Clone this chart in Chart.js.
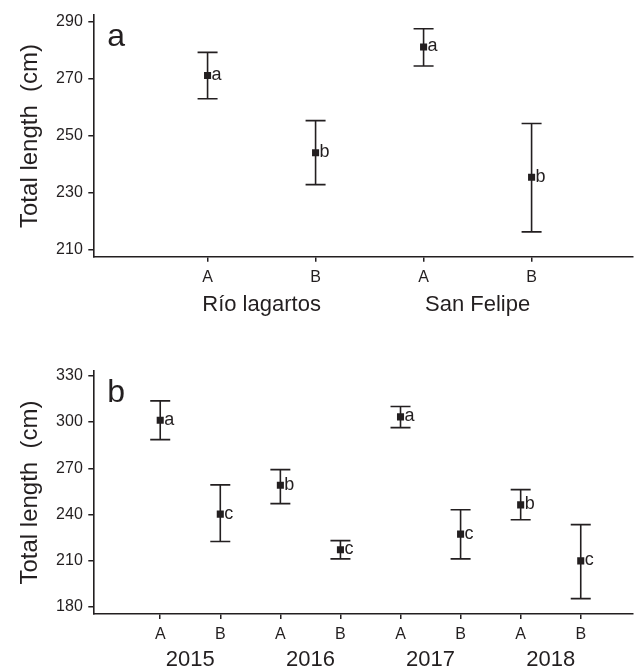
<!DOCTYPE html>
<html>
<head>
<meta charset="utf-8">
<script src="https://cdn.jsdelivr.net/npm/chart.js@4.4.1/dist/chart.umd.min.js"></script>
<style>
  body { margin: 0; background: #fff; }
  .panel { position: absolute; left: 0; width: 638px; }
  #boxA { top: 0; height: 330px; }
  #boxB { top: 335px; height: 337px; }
</style>
</head>
<body>
<div class="panel" id="boxA"><canvas id="chartA"></canvas></div>
<div class="panel" id="boxB"><canvas id="chartB"></canvas></div>
<script>
// panel a: sites
const catA = ['A', 'B', 'A', 'B'];
const groupA = ['Río lagartos', 'San Felipe'];
const meanA = [271.2, 244.0, 281.2, 235.4];
const lowA = [263.0, 232.8, 274.5, 216.2];
const highA = [279.3, 255.3, 287.6, 254.3];
const letterA = ['a', 'b', 'a', 'b'];
const ticksA = [210, 230, 250, 270, 290];

// panel b: years
const catB = ['A', 'B', 'A', 'B', 'A', 'B', 'A', 'B'];
const groupB = ['2015', '2016', '2017', '2018'];
const meanB = [301.2, 240.2, 259.0, 217.0, 303.4, 227.2, 246.2, 209.8];
const lowB = [288.6, 222.4, 247.0, 211.1, 296.4, 211.1, 236.5, 185.3];
const highB = [313.8, 259.2, 269.1, 223.0, 310.1, 243.0, 256.1, 233.4];
const letterB = ['a', 'c', 'b', 'c', 'a', 'c', 'b', 'c'];
const ticksB = [180, 210, 240, 270, 300, 330];

const FONT = "'Liberation Sans', Arial, sans-serif";
const INK = '#231f20';

const errBars = {
  id: 'errBars',
  beforeDatasetsDraw(chart, args, opts) {
    const { ctx, scales: { x, y } } = chart;
    ctx.save();
    ctx.strokeStyle = INK;
    ctx.lineWidth = 1.6;
    opts.low.forEach((lo, i) => {
      const px = x.getPixelForValue(i + 1);
      const top = y.getPixelForValue(opts.high[i]);
      const bot = y.getPixelForValue(lo);
      ctx.beginPath();
      ctx.moveTo(px, top); ctx.lineTo(px, bot);
      ctx.moveTo(px - 10, top); ctx.lineTo(px + 10, top);
      ctx.moveTo(px - 10, bot); ctx.lineTo(px + 10, bot);
      ctx.stroke();
    });
    ctx.restore();
  },
  afterDatasetsDraw(chart, args, opts) {
    const { ctx, scales: { x, y }, chartArea } = chart;
    ctx.save();
    ctx.fillStyle = INK;
    ctx.textBaseline = 'alphabetic';
    ctx.textAlign = 'left';
    ctx.font = '18px ' + FONT;
    opts.letters.forEach((t, i) => {
      const px = x.getPixelForValue(i + 1);
      const py = y.getPixelForValue(opts.mean[i]);
      ctx.fillText(t, px + 4, py + 4.5);
    });
    ctx.font = '32px ' + FONT;
    ctx.fillText(opts.panel, chartArea.left + 14, chartArea.top + 30.5);
    ctx.restore();
  }
};

function makeChart(id, cfg) {
  return new Chart(document.getElementById(id), {
    type: 'scatter',
    data: {
      datasets: [{
        data: cfg.mean.map((m, i) => ({ x: i + 1, y: m })),
        pointStyle: 'rect',
        pointRadius: 5,
        pointHoverRadius: 5,
        backgroundColor: INK,
        borderWidth: 0
      }]
    },
    options: {
      responsive: true,
      maintainAspectRatio: false,
      animation: false,
      events: [],
      layout: { padding: { top: cfg.padTop, right: 2, left: 0, bottom: 0 } },
      plugins: {
        legend: { display: false },
        tooltip: { enabled: false },
        errBars: { low: cfg.low, high: cfg.high, mean: cfg.mean, letters: cfg.letters, panel: cfg.panel }
      },
      scales: {
        x: {
          type: 'linear',
          min: cfg.xMin, max: cfg.xMax,
          weight: 0,
          afterBuildTicks: s => { s.ticks = cfg.cats.map((c, i) => ({ value: i + 1 })); },
          afterFit: s => { s.height = 26; },
          ticks: {
            callback: v => cfg.cats[v - 1],
            autoSkip: false, maxRotation: 0,
            color: INK, padding: 5.8,
            font: { family: FONT, size: 16 }
          },
          grid: { drawOnChartArea: false, tickLength: 5, color: INK, lineWidth: 1.5 },
          border: { display: true, color: INK, width: 1.6 }
        },
        x2: {
          type: 'linear',
          position: 'bottom',
          min: cfg.xMin, max: cfg.xMax,
          weight: 1,
          afterBuildTicks: s => { s.ticks = cfg.groups.map((g, i) => ({ value: 2 * i + 1.5 })); },
          afterFit: s => { s.height = cfg.x2h; },
          ticks: {
            callback: (v, i) => cfg.groups[i],
            autoSkip: false, maxRotation: 0,
            color: INK, padding: cfg.x2pad,
            font: { family: FONT, size: 22 }
          },
          grid: { display: false, drawTicks: false },
          border: { display: false }
        },
        y: {
          min: cfg.yMin, max: cfg.yMax,
          afterBuildTicks: s => { s.ticks = cfg.yTicks.map(v => ({ value: v })); },
          afterFit: s => { s.width = 93.3; },
          ticks: { color: INK, padding: 5.5, font: { family: FONT, size: 16 } },
          grid: { drawOnChartArea: false, tickLength: 5, color: INK, lineWidth: 1.5 },
          border: { display: true, color: INK, width: 1.6 },
          title: {
            display: true,
            text: 'Total length  (cm)',
            color: INK,
            padding: { top: 16, bottom: 0 },
            font: { family: FONT, size: 24 }
          }
        }
      }
    },
    plugins: [errBars]
  });
}

makeChart('chartA', {
  cats: catA, groups: groupA, mean: meanA, low: lowA, high: highA, letters: letterA,
  panel: 'a', yTicks: ticksA, yMin: 207.45, yMax: 292.4,
  xMin: -0.058, xMax: 4.939,
  padTop: 13.5, x2h: 47.2, x2pad: 8.9
});

makeChart('chartB', {
  cats: catB, groups: groupB, mean: meanB, low: lowB, high: highB, letters: letterB,
  panel: 'b', yTicks: ticksB, yMin: 175.3, yMax: 333.2,
  xMin: -0.114, xMax: 8.87,
  padTop: 36, x2h: 32, x2pad: 6.8
});
</script>
</body>
</html>
